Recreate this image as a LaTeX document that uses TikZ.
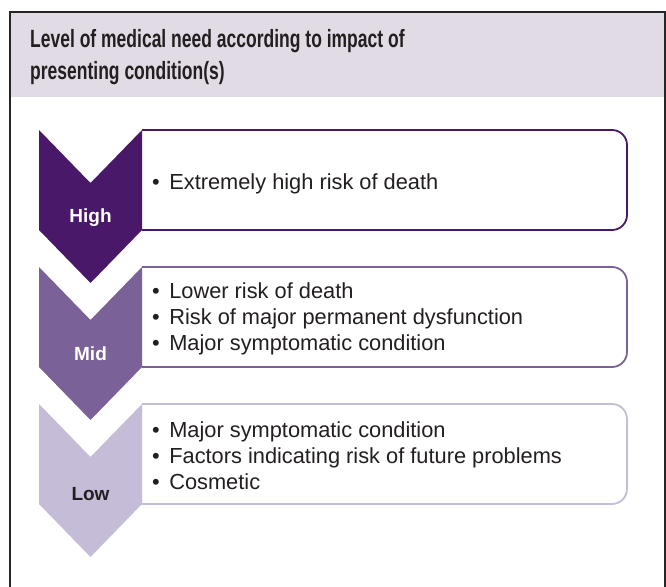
\documentclass[tikz,border=0pt]{standalone}
\usepackage{fontspec}
\setmainfont{Liberation Sans}
\newfontfamily\titlefont[FakeStretch=0.70]{Liberation Sans}
\definecolor{hicol}{HTML}{4A1869}
\definecolor{midcol}{HTML}{7A6198}
\definecolor{locol}{HTML}{C5BCD8}
\definecolor{headcol}{HTML}{E1DBE6}
\definecolor{txtcol}{HTML}{231F20}
\newcommand{\bul}{•\hspace{9.5pt}}
\tikzset{
  titletext/.style={anchor=base west, inner sep=0pt, text=txtcol, font=\titlefont\bfseries\fontsize{25}{31}\selectfont},
  bodytext/.style={anchor=west, inner sep=0pt, align=left, text=txtcol, font=\fontsize{21.8}{26}\selectfont},
  lvl/.style={inner sep=0pt, font=\bfseries\fontsize{19}{22}\selectfont},
  boxline/.style={line width=1.8pt, fill=white, rounded corners=15pt}
}
\begin{document}
\begin{tikzpicture}[x=1pt,y=-1pt]
\useasboundingbox (0,0) rectangle (666,586);
% frame and header
\fill[headcol] (10,12) rectangle (665,97);
\draw[line width=1.8pt, black!85] (10,590) -- (10,12) -- (665,12) -- (665,590);
\node[titletext] (t1) at (30,48) {Level of medical need according to impact of};
\node[titletext] (t2) at (30,79) {presenting condition(s)};
% boxes
\foreach \top/\col in {130/hicol, 267/midcol, 404/locol}{
  \draw[boxline, draw=\col] (142,\top) -- (627,\top) -- (627,\top+100) -- (142,\top+100);
  \fill[\col] (39,\top) -- (90.5,\top+53) -- (142,\top) -- (142,\top+100) -- (90.5,\top+153) -- (39,\top+100) -- cycle;
}
\node[lvl, text=white] (high) at (90.5,218) {High};
\node[lvl, text=white] (mid) at (90.5,354) {Mid};
\node[lvl, text=txtcol] (low) at (90.5,494) {Low};
\node[bodytext] (hb) at (152,183.5) {\bul{}Extremely high risk of death};
\node[bodytext] (mb) at (152,319) {\bul{}Lower risk of death\\\bul{}Risk of major permanent dysfunction\\\bul{}Major symptomatic condition};
\node[bodytext] (lb) at (152,455.5) {\bul{}Major symptomatic condition\\\bul{}Factors indicating risk of future problems\\\bul{}Cosmetic};
\end{tikzpicture}
\end{document}
